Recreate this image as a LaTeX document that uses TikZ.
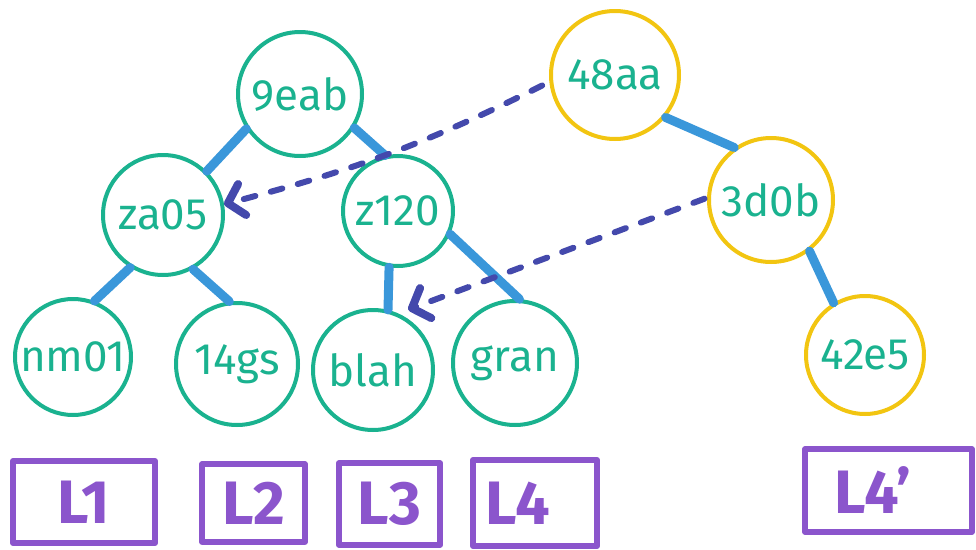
\documentclass[tikz,border=0pt]{standalone}
\usepackage{fontspec}
\setmainfont{Fira Sans}
\usetikzlibrary{arrows.meta}
\definecolor{tealc}{HTML}{1AB28F}
\definecolor{yell}{HTML}{F2C511}
\definecolor{edgeblue}{HTML}{3A97DA}
\definecolor{dashblue}{HTML}{4449AC}
\definecolor{purp}{HTML}{8B55CC}
\begin{document}
\begin{tikzpicture}[x=0.75pt,y=-0.75pt,
  tnode/.style={circle, draw=tealc, line width=3pt, text=tealc, inner sep=0pt,
    font=\fontsize{33}{33}\selectfont, minimum size=#1},
  ynode/.style={tnode=#1, draw=yell},
  treeedge/.style={draw=edgeblue, line width=6.75pt, line cap=round},
  dasharrow/.style={draw=dashblue, line width=4.5pt, line cap=round,
    dash pattern=on 9pt off 12pt,
    -{Straight Barb[length=11pt,width=24pt,round,line width=6pt]}},
  lbox/.style={draw=purp, line width=4.5pt, line join=round},
  ltext/.style={text=purp, font=\bfseries\fontsize{46}{46}\selectfont, inner sep=0pt}
]
\useasboundingbox (0,0) rectangle (976,550);

% tree nodes
\node[tnode=93pt] (n9eab) at (300,94) {9eab};
\node[ynode=96pt] (n48aa) at (615,75) {48aa};
\node[tnode=90pt] (nza05) at (163,215) {za05};
\node[tnode=82.5pt] (nz120) at (398,211) {z120};
\node[ynode=93pt] (n3d0b) at (771,200) {3d0b};
\node[tnode=87pt] (nnm01) at (73,357) {nm01};
\node[tnode=91.5pt] (n14gs) at (237,364) {14gs};
\node[tnode=90pt] (nblah) at (373,370) {blah};
\node[tnode=93pt] (ngran) at (515,363) {gran};
\node[ynode=88.5pt] (n42e5) at (865,355) {42e5};

% tree edges
\draw[treeedge] (n9eab.213) -- (nza05.45);
\draw[treeedge] (n9eab.328) -- (nz120.103);
\draw[treeedge] (n48aa.320) -- (n3d0b.125);
\draw[treeedge] (nza05.238) -- (nnm01.69);
\draw[treeedge] (nza05.299) -- (n14gs.97);
\draw[treeedge] (nz120.261) -- (nblah.76);
\draw[treeedge] (nz120.336) -- (ngran.86);
\draw[treeedge] (n3d0b.307) -- (n42e5.121);

% dashed pointers
\draw[dasharrow, shorten <=6pt] (n48aa.186) to[bend left=6] (nza05.10);
\draw[dasharrow, shorten <=2pt, shorten >=8pt] (n3d0b.178) -- (nblah.66);

% leaf boxes
\node[lbox, minimum width=106.5pt, minimum height=61.5pt] (b1) at (84,502) {};
\node[ltext] (t1) at (b1.center) {L1};
\node[lbox, minimum width=77pt, minimum height=58pt] (b2) at (253.5,503) {};
\node[ltext] (t2) at (b2.center) {L2};
\node[lbox, minimum width=76pt, minimum height=61pt] (b3) at (389.5,504) {};
\node[ltext] (t3) at (b3.center) {L3};
\node[lbox, minimum width=93pt, minimum height=64.5pt] (b4) at (535,503) {};
\node[ltext] (t4) at (518,503) {L4};
\node[lbox, minimum width=125pt, minimum height=62pt] (b5) at (888.5,490.5) {};
\node[ltext] (t5) at (873,490) {L4'};
\end{tikzpicture}
\end{document}
